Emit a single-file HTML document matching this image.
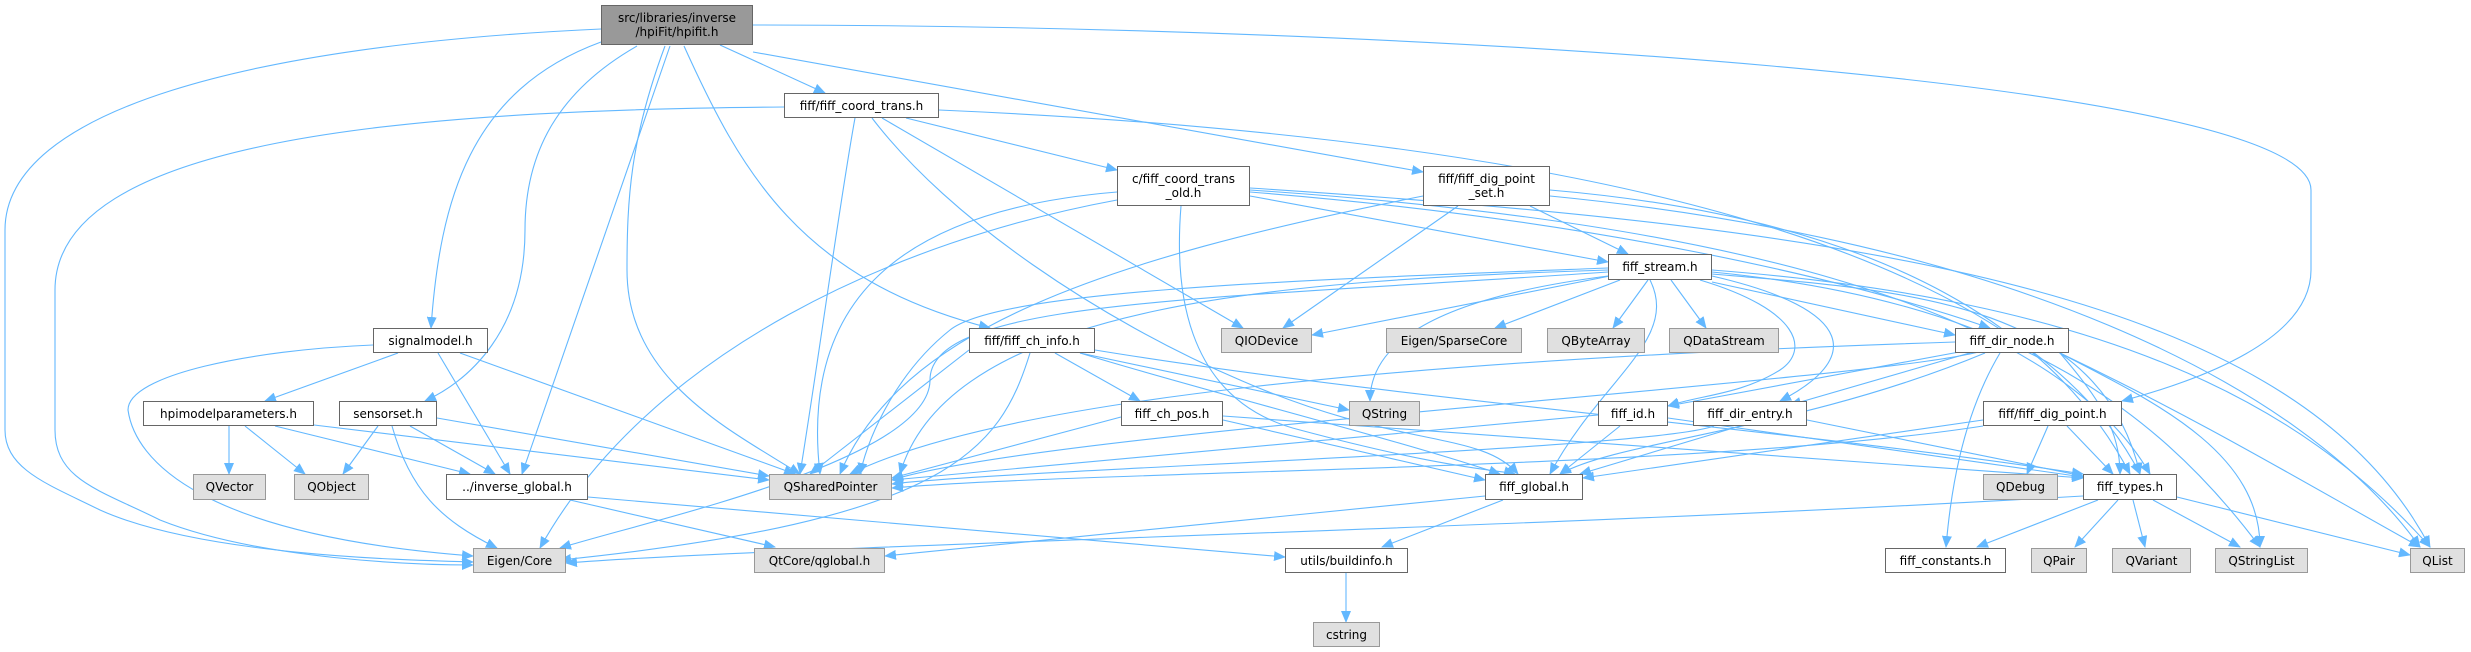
<!DOCTYPE html>
<html><head><meta charset="utf-8"><style>
body{margin:0;background:#fff;width:2471px;height:652px;overflow:hidden;position:relative;font-family:"DejaVu Sans","Liberation Sans",sans-serif;}
svg{position:absolute;left:0;top:0}
.n{position:absolute;box-sizing:border-box;border:1px solid #666;background:#fff;font-size:12px;color:#000;display:flex;align-items:center;justify-content:center;text-align:center;line-height:14px;white-space:nowrap}
.g{background:#e0e0e0;border-color:#999}
.r{background:#999;border-color:#666}
</style></head><body>
<svg id="s" width="2471" height="652" viewBox="0 0 2471 652">
<defs><marker id="a" markerUnits="userSpaceOnUse" markerWidth="12" markerHeight="10" refX="11" refY="5" orient="auto"><path d="M0,0 L12,5 L0,10 z" fill="#63b8ff"/></marker></defs>
<g id="e" fill="none" stroke="#63b8ff" stroke-width="1.1" marker-end="url(#a)">
<path d="M601,29 C250,45 5,110 5,230 L5,430 C5,470 50,485 100,510 C200,555 400,560 473,562"/>
<path d="M720,45 L825,93"/>
<path d="M601,42 C470,90 440,200 431,328"/>
<path d="M637,46 C560,90 525,150 525,230 C525,330 470,380 425,401"/>
<path d="M670,46 L522,474"/>
<path d="M665,46 C630,140 627,200 627,270 C627,380 730,430 800,474"/>
<path d="M684,46 C740,170 800,280 990,328"/>
<path d="M753,52 L1423,172"/>
<path d="M753,25 C1400,25 2311,80 2311,190 L2311,270 C2311,340 2200,380 2122,401"/>
<path d="M784,107 C400,110 55,140 55,290 L55,430 C55,480 100,490 160,520 C260,560 420,565 473,565"/>
<path d="M906,118 L1117,170"/>
<path d="M882,118 L1243,328"/>
<path d="M872,118 C950,220 1100,320 1240,380 C1400,450 1480,430 1518,474"/>
<path d="M855,118 C840,200 820,350 800,474"/>
<path d="M939,110 C1400,130 2000,200 2140,474"/>
<path d="M1117,192 C900,210 800,300 820,474"/>
<path d="M1117,200 C900,240 650,350 540,548"/>
<path d="M1250,196 L1608,262"/>
<path d="M1181,206 C1175,280 1180,400 1300,430 C1450,470 1500,470 1515,474"/>
<path d="M1250,190 C1700,220 2050,300 2150,474"/>
<path d="M1250,192 C1600,220 1850,280 1990,328"/>
<path d="M1250,188 C1900,230 2300,300 2430,547"/>
<path d="M1423,196 C1100,260 900,330 840,474"/>
<path d="M1458,206 L1283,328"/>
<path d="M1530,206 L1628,254"/>
<path d="M1550,190 C1900,220 2060,340 2130,474"/>
<path d="M1550,196 C2000,240 2300,380 2420,547"/>
<path d="M1608,270 C1300,280 950,300 900,474"/>
<path d="M1608,268 C1300,280 1000,290 950,330 C900,370 870,430 860,474"/>
<path d="M1608,272 C1200,300 930,300 930,380 C930,460 650,520 560,548"/>
<path d="M1610,276 L1312,335"/>
<path d="M1620,280 L1495,328"/>
<path d="M1648,280 L1613,328"/>
<path d="M1671,280 L1706,328"/>
<path d="M1608,276 C1420,300 1370,350 1370,401"/>
<path d="M1712,282 L1955,335"/>
<path d="M1700,280 C1800,310 1810,350 1780,370 C1740,395 1700,395 1668,406"/>
<path d="M1712,276 C1860,310 1860,360 1780,401"/>
<path d="M1650,280 C1680,340 1600,380 1550,474"/>
<path d="M1712,274 C1900,290 2100,300 2140,474"/>
<path d="M1712,272 C2000,300 2150,400 2260,547"/>
<path d="M1712,270 C2100,300 2300,400 2430,547"/>
<path d="M969,350 L810,474"/>
<path d="M1030,353 C1000,450 950,520 560,560"/>
<path d="M1055,353 L1140,401"/>
<path d="M1080,353 L1349,410"/>
<path d="M1080,353 C1200,390 1400,440 1500,474"/>
<path d="M1095,350 C1400,400 1800,430 2083,474"/>
<path d="M1955,342 C1400,360 1000,400 850,474"/>
<path d="M1970,350 L1668,406"/>
<path d="M1980,350 L1790,405"/>
<path d="M1985,353 C1800,430 1620,440 1560,474"/>
<path d="M2000,353 C1960,420 1950,500 1946,547"/>
<path d="M2060,353 C2100,400 2120,430 2120,474"/>
<path d="M2060,353 C2150,400 2260,450 2260,547"/>
<path d="M2060,353 C2200,420 2300,480 2420,547"/>
<path d="M1121,417 L892,478"/>
<path d="M1223,420 L1485,480"/>
<path d="M1223,416 L2083,478"/>
<path d="M1598,415 L892,480"/>
<path d="M1620,426 L1560,474"/>
<path d="M1668,418 L2083,477"/>
<path d="M1714,426 C1650,450 1000,470 892,484"/>
<path d="M1740,426 L1580,474"/>
<path d="M1807,420 L2083,476"/>
<path d="M1983,420 L1583,478"/>
<path d="M1983,426 C1700,470 1100,470 892,488"/>
<path d="M2048,426 L2027,474"/>
<path d="M2067,426 L2113,474"/>
<path d="M1485,496 L885,556"/>
<path d="M1503,500 L1382,547"/>
<path d="M588,497 L1285,557"/>
<path d="M570,500 L775,547"/>
<path d="M1346,573 L1346,622"/>
<path d="M2083,496 C1500,530 800,545 566,563"/>
<path d="M2098,500 L1977,547"/>
<path d="M2118,500 L2075,547"/>
<path d="M2133,500 L2145,547"/>
<path d="M2153,500 L2240,547"/>
<path d="M2177,497 L2410,555"/>
<path d="M1985,350 C1900,380 1050,430 892,480"/>
<path d="M373,345 C250,350 128,375 128,410 C135,460 200,535 473,556"/>
<path d="M398,353 L265,401"/>
<path d="M438,353 L510,474"/>
<path d="M460,353 L795,474"/>
<path d="M229,426 L229,474"/>
<path d="M245,426 L305,474"/>
<path d="M275,426 L470,474"/>
<path d="M314,425 L769,480"/>
<path d="M378,426 L343,474"/>
<path d="M392,426 C410,490 440,520 497,548"/>
<path d="M410,426 L495,474"/>
<path d="M437,418 L769,476"/>
</g></svg>
<div class="n r" style="left:601px;top:5px;width:152px;height:40px">src/libraries/inverse<br>/hpiFit/hpifit.h</div>
<div class="n" style="left:784px;top:93px;width:155px;height:25px">fiff/fiff_coord_trans.h</div>
<div class="n" style="left:1117px;top:166px;width:133px;height:40px">c/fiff_coord_trans<br>_old.h</div>
<div class="n" style="left:1423px;top:166px;width:127px;height:40px">fiff/fiff_dig_point<br>_set.h</div>
<div class="n" style="left:1608px;top:254px;width:104px;height:26px">fiff_stream.h</div>
<div class="n" style="left:373px;top:328px;width:115px;height:25px">signalmodel.h</div>
<div class="n" style="left:969px;top:328px;width:126px;height:25px">fiff/fiff_ch_info.h</div>
<div class="n g" style="left:1221px;top:328px;width:91px;height:25px">QIODevice</div>
<div class="n g" style="left:1386px;top:328px;width:136px;height:25px">Eigen/SparseCore</div>
<div class="n g" style="left:1547px;top:328px;width:98px;height:25px">QByteArray</div>
<div class="n g" style="left:1669px;top:328px;width:110px;height:25px">QDataStream</div>
<div class="n" style="left:1955px;top:328px;width:114px;height:25px">fiff_dir_node.h</div>
<div class="n" style="left:143px;top:401px;width:171px;height:25px">hpimodelparameters.h</div>
<div class="n" style="left:339px;top:401px;width:98px;height:25px">sensorset.h</div>
<div class="n" style="left:1121px;top:401px;width:102px;height:25px">fiff_ch_pos.h</div>
<div class="n g" style="left:1349px;top:401px;width:71px;height:25px">QString</div>
<div class="n" style="left:1598px;top:401px;width:70px;height:25px">fiff_id.h</div>
<div class="n" style="left:1693px;top:401px;width:114px;height:25px">fiff_dir_entry.h</div>
<div class="n" style="left:1983px;top:401px;width:139px;height:25px">fiff/fiff_dig_point.h</div>
<div class="n g" style="left:193px;top:474px;width:73px;height:26px">QVector</div>
<div class="n g" style="left:294px;top:474px;width:75px;height:26px">QObject</div>
<div class="n" style="left:446px;top:474px;width:142px;height:26px">../inverse_global.h</div>
<div class="n g" style="left:769px;top:474px;width:123px;height:26px">QSharedPointer</div>
<div class="n" style="left:1485px;top:474px;width:98px;height:26px">fiff_global.h</div>
<div class="n g" style="left:1983px;top:474px;width:75px;height:26px">QDebug</div>
<div class="n" style="left:2083px;top:474px;width:94px;height:26px">fiff_types.h</div>
<div class="n g" style="left:473px;top:548px;width:93px;height:25px">Eigen/Core</div>
<div class="n g" style="left:754px;top:548px;width:131px;height:25px">QtCore/qglobal.h</div>
<div class="n" style="left:1285px;top:548px;width:123px;height:25px">utils/buildinfo.h</div>
<div class="n" style="left:1885px;top:548px;width:121px;height:25px">fiff_constants.h</div>
<div class="n g" style="left:2031px;top:548px;width:56px;height:25px">QPair</div>
<div class="n g" style="left:2112px;top:548px;width:79px;height:25px">QVariant</div>
<div class="n g" style="left:2215px;top:548px;width:93px;height:25px">QStringList</div>
<div class="n g" style="left:2410px;top:548px;width:55px;height:25px">QList</div>
<div class="n g" style="left:1313px;top:622px;width:67px;height:25px">cstring</div>
</body></html>
